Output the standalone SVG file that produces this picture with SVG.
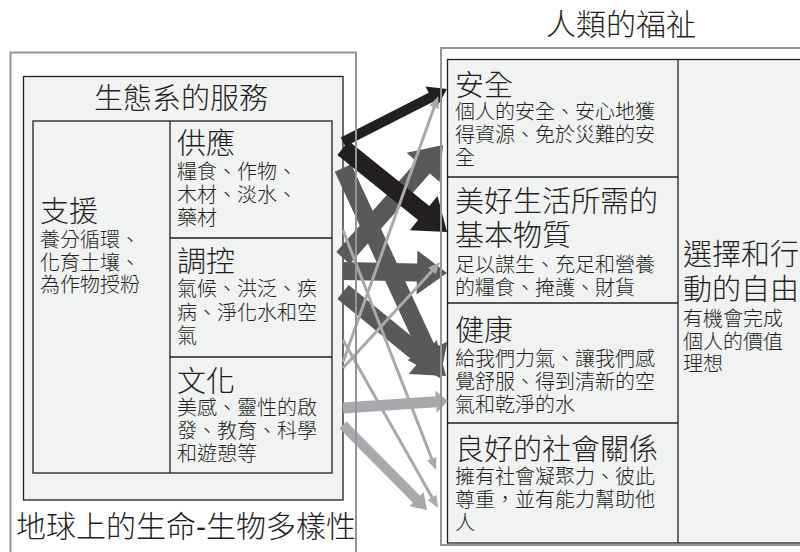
<svg xmlns="http://www.w3.org/2000/svg" width="800" height="552" viewBox="0 0 800 552">
<style>
text{font-family:"Liberation Sans","Noto Sans CJK TC",sans-serif;fill:#231f20;font-weight:300}
.h{font-size:29px}
.s{font-size:20px}
.big{font-size:30px}
.box{fill:#f1f2f2;stroke:#231f20;stroke-width:1.3}
.ln{stroke:#231f20;stroke-width:1.3;fill:none}
.frame{fill:none;stroke:#939598;stroke-width:2}
.bk{fill:#231f20}
.dk{fill:#58595b}
.lt{fill:#a7a9ac}
</style>
<rect width="800" height="552" fill="#ffffff"/>

<g id="ecosystem-services">
<rect class="box" x="23.5" y="76.5" width="319.5" height="423.5"/>
<text class="h" x="181" y="109" text-anchor="middle">生態系的服務</text>
<rect class="box" x="33" y="121" width="299" height="352"/>
<line class="ln" x1="170" y1="121" x2="170" y2="473"/>
<line class="ln" x1="170" y1="238" x2="332" y2="238"/>
<line class="ln" x1="170" y1="357" x2="332" y2="357"/>
</g>

<g id="supporting">
<text class="h" x="40" y="222">支援</text>
<text class="s" x="40" y="247">養分循環、</text>
<text class="s" x="40" y="269.5">化育土壤、</text>
<text class="s" x="40" y="292">為作物授粉</text>
</g>

<g id="provisioning">
<text class="h" x="177" y="154">供應</text>
<text class="s" x="177" y="179">糧食、作物、</text>
<text class="s" x="177" y="202">木材、淡水、</text>
<text class="s" x="177" y="225">藥材</text>
</g>

<g id="regulating">
<text class="h" x="177" y="272">調控</text>
<text class="s" x="177" y="296">氣候、洪泛、疾</text>
<text class="s" x="177" y="319.5">病、淨化水和空</text>
<text class="s" x="177" y="343">氣</text>
</g>

<g id="cultural">
<text class="h" x="177" y="392">文化</text>
<text class="s" x="177" y="415">美感、靈性的啟</text>
<text class="s" x="177" y="438">發、教育、科學</text>
<text class="s" x="177" y="461">和遊憩等</text>
</g>

<g id="biodiversity">
<text class="big" x="16" y="537">地球上的生命-生物多樣性</text>
</g>

<g id="human-wellbeing">
<text class="big" x="621" y="35" text-anchor="middle">人類的福祉</text>
<rect class="box" x="447.5" y="59.5" width="370" height="483.5"/>
<line class="ln" x1="678" y1="59.5" x2="678" y2="543"/>
<line class="ln" x1="447.5" y1="177" x2="678" y2="177"/>
<line class="ln" x1="447.5" y1="303" x2="678" y2="303"/>
<line class="ln" x1="447.5" y1="423" x2="678" y2="423"/>
</g>

<g id="security">
<text class="h" x="455" y="96">安全</text>
<text class="s" x="455" y="119">個人的安全、安心地獲</text>
<text class="s" x="455" y="142">得資源、免於災難的安</text>
<text class="s" x="455" y="165">全</text>
</g>

<g id="basic-material">
<text class="h" x="455" y="212">美好生活所需的</text>
<text class="h" x="455" y="246">基本物質</text>
<text class="s" x="455" y="272">足以謀生、充足和營養</text>
<text class="s" x="455" y="295">的糧食、掩護、財貨</text>
</g>

<g id="health">
<text class="h" x="455" y="341">健康</text>
<text class="s" x="455" y="366">給我們力氣、讓我們感</text>
<text class="s" x="455" y="389">覺舒服、得到清新的空</text>
<text class="s" x="455" y="412">氣和乾淨的水</text>
</g>

<g id="social-relations">
<text class="h" x="455" y="460">良好的社會關係</text>
<text class="s" x="455" y="484">擁有社會凝聚力、彼此</text>
<text class="s" x="455" y="507">尊重，並有能力幫助他</text>
<text class="s" x="455" y="530">人</text>
</g>

<g id="freedom">
<text class="h" x="683" y="265">選擇和行</text>
<text class="h" x="683" y="300">動的自由</text>
<text class="s" x="683" y="326">有機會完成</text>
<text class="s" x="683" y="349">個人的價值</text>
<text class="s" x="683" y="371">理想</text>
</g>

<g id="connectors">
<polygon class="dk" points="0,-9 120.9,-9 120.9,-22 150.9,0 120.9,22 120.9,9 0,9" transform="translate(343,258) rotate(-48.5)"/>
<polygon class="dk" points="0,-9 74,-9 74,-22 104,0 74,22 74,9 0,9" transform="translate(343,271) rotate(1.1)"/>
<polygon class="dk" points="0,-9 102.9,-9 102.9,-22 132.9,0 102.9,22 102.9,9 0,9" transform="translate(343,292) rotate(39.2)"/>
<polygon class="dk" points="0,-9 201.3,-9 201.3,-22 231.3,0 201.3,22 201.3,9 0,9" transform="translate(343,168) rotate(65.2)"/>
<polygon class="bk" points="0,-5 98.7,-5 98.7,-12 116.7,0 98.7,12 98.7,5 0,5" transform="translate(343,142) rotate(-27)"/>
<polygon class="bk" points="0,-9 103.7,-9 103.7,-22 133.7,0 103.7,22 103.7,9 0,9" transform="translate(343,148) rotate(38.9)"/>
<polygon class="lt" points="0,-1.5 245.4,-1.5 245.4,-5 257.4,0 245.4,5 245.4,1.5 0,1.5" transform="translate(343,230) rotate(68.8)"/>
<polygon class="lt" points="0,-1.5 181,-1.5 181,-5 193,0 181,5 181,1.5 0,1.5" transform="translate(343,340) rotate(60.5)"/>
<polygon class="lt" points="0,-1.5 270.5,-1.5 270.5,-5 282.5,0 270.5,5 270.5,1.5 0,1.5" transform="translate(343,362) rotate(-70.3)"/>
<polygon class="lt" points="0,-1.5 131.7,-1.5 131.7,-5 143.7,0 131.7,5 131.7,1.5 0,1.5" transform="translate(343,368) rotate(-47.5)"/>
<polygon class="lt" points="0,-5.5 93.2,-5.5 93.2,-11 105.2,0 93.2,11 93.2,5.5 0,5.5" transform="translate(343,408) rotate(-3.8)"/>
<polygon class="lt" points="0,-5 104.5,-5 104.5,-10 119.5,0 104.5,10 104.5,5 0,5" transform="translate(343,425) rotate(45.3)"/>
</g>

<g id="frames">
<rect class="frame" x="10.5" y="52.5" width="345.5" height="520"/>
<rect class="frame" x="441" y="48" width="380" height="497"/>
</g>
</svg>
